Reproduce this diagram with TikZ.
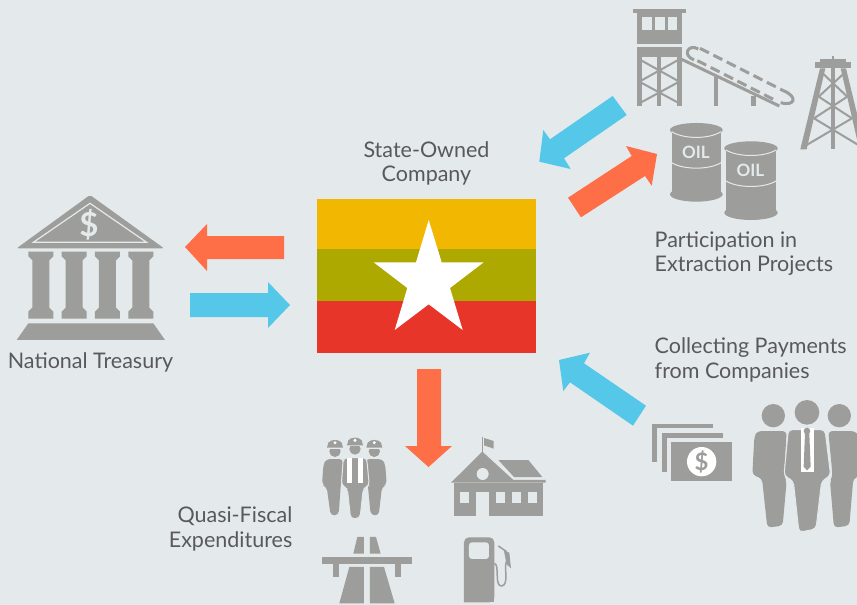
\documentclass[tikz,border=0pt]{standalone}
\usepackage{fontspec}
\setmainfont{Lato}
\definecolor{bgGrey}{HTML}{E4E9EB}
\definecolor{iconGrey}{HTML}{9D9D9B}
\definecolor{textGrey}{HTML}{58595B}
\definecolor{arrowOrange}{HTML}{FF6F47}
\definecolor{arrowBlue}{HTML}{55C8EA}
\definecolor{flagYellow}{HTML}{F2B700}
\definecolor{flagGreen}{HTML}{AEA900}
\definecolor{flagRed}{HTML}{E73529}
\tikzset{
  icon/.style={fill=iconGrey},
  iconline/.style={draw=iconGrey, line width=3pt},
  cutout/.style={fill=bgGrey},
  label/.style={text=textGrey, font=\fontsize{21.5}{24.5}\selectfont, inner sep=0pt},
  barreltext/.style={text=bgGrey, font=\fontsize{17}{17}\bfseries\selectfont, inner sep=0pt},
  dollar/.style={inner sep=0pt, font=\bfseries}
}

\begin{document}
\begin{tikzpicture}[x=1pt, y=-1pt]

\useasboundingbox (0,0) rectangle (857,605);
\fill[bgGrey] (0,0) rectangle (857,605);

% flag
\fill[flagYellow] (317,199) rectangle (536,249);
\fill[flagGreen] (317,249) rectangle (536,301);
\fill[flagRed] (317,301) rectangle (536,353);
\fill[white] (428.7,220) -- (441.7,262.3) -- (483.7,262.3) -- (450,288) -- (462.7,330)
  -- (428.7,304.3) -- (394.7,330) -- (407.3,288) -- (373.7,262.3) -- (416,262.3) -- cycle;

% arrows
\fill[arrowOrange] (185,247) -- (207,224) -- (207,236) -- (284,236) -- (284,259) -- (207,259) -- (207,271) -- cycle;
\fill[arrowBlue] (290,305) -- (268,282) -- (268,293) -- (190,293) -- (190,317) -- (268,317) -- (268,328) -- cycle;
\fill[arrowOrange] (428.5,467) -- (405,446) -- (417,446) -- (417,369) -- (441,369) -- (441,446) -- (452,446) -- cycle;
\fill[arrowBlue] (539.3,161.7) -- (543.3,130) -- (550,139.3) -- (612.7,96) -- (626.7,115) -- (564,158.3) -- (570.7,169) -- cycle;
\fill[arrowOrange] (657,154) -- (626,146) -- (631.7,156) -- (568,197.7) -- (581,217.3) -- (645,176) -- (651.7,185.7) -- cycle;
\fill[arrowBlue] (559,360) -- (590,352.7) -- (584,363.3) -- (646,405.7) -- (633,425.7) -- (570,382.3) -- (563.3,391) -- cycle;

% labels
\node[label, align=center] (company) at (426.5,163.5) {State-Owned\\Company};
\node[label, align=left, anchor=west] (participation) at (654.5,253.5) {Participation in\\Extraction Projects};
\node[label, align=left, anchor=west] (collecting) at (654.5,360) {Collecting Payments\\from Companies};
\node[label] (treasury) at (90.5,362.5) {National Treasury};
\node[label, align=right, anchor=east] (quasi) at (292.5,529) {Quasi-Fiscal\\Expenditures};

% treasury
\begin{scope}[shift={(0,185)}, scale=0.3333]
\fill[icon, rounded corners=2pt] (270,30) -- (492,190) -- (50,190) -- cycle;
\draw[bgGrey, line width=1.2pt] (270,55) -- (440,172) -- (100,172) -- cycle;
\foreach \x in {85,185,285,385} {
  \fill[icon] (\x,200) -- ++(75,0) -- ++(0,14) -- ++(-12,12) -- ++(0,142) -- ++(12,12) -- ++(0,21) -- ++(-75,0) -- ++(0,-21) -- ++(12,-12) -- ++(0,-142) -- ++(-12,-12) -- cycle;
}
\fill[icon] (85,415) -- (460,415) -- (495,465) -- (50,465) -- cycle;
\node[dollar, text=bgGrey, font=\fontsize{33}{33}\bfseries\selectfont] (bankdollar) at (267,118) {\$};
\end{scope}

% tower and conveyor
\begin{scope}[shift={(620,0)}, scale=0.3333]
\fill[icon] (40,27) rectangle (197,38);
\fill[icon] (52,38) rectangle (185,132);
\fill[cutout] (66,52) rectangle (95,90);
\fill[cutout] (105,52) rectangle (134,90);
\fill[cutout] (143,52) rectangle (172,90);
\fill[icon] (52,142) rectangle (185,170);
\fill[icon] (52,170) rectangle (65,318);
\fill[icon] (111,170) rectangle (124,318);
\fill[icon] (172,170) rectangle (185,318);
\draw[iconline, line width=2pt] (58,178) -- (178,245) (178,178) -- (58,245) (58,245) -- (178,310) (178,245) -- (58,310);
\draw[iconline] (185,178) -- (478,318);
\fill[icon] (281,232) rectangle (295,318);
\fill[icon] (393,288) rectangle (407,318);
\draw[iconline, dash pattern=on 10pt off 5pt] (240,145) -- (490,272);
\draw[iconline, dash pattern=on 10pt off 5pt] (232,182) -- (470,303);
\draw[iconline] (235,147) .. controls (205,130) and (185,165) .. (222,180);
\draw[iconline] (490,272) .. controls (535,290) and (525,320) .. (482,308);
% derrick
\fill[icon] (585,185) rectangle (693,205);
\fill[icon] (600,178) rectangle (678,186);
\fill[icon] (635,168) rectangle (643,180);
\fill[icon] (633,205) rectangle (645,448);
\fill[icon] (600,205) -- (616,205) -- (560,448) -- (541,448) -- cycle;
\fill[icon] (662,205) -- (678,205) -- (737,448) -- (718,448) -- cycle;
\draw[iconline, line width=2pt] (610,222) -- (682,290) (670,222) -- (596,290)
  (596,290) -- (696,355) (682,290) -- (582,355) (582,355) -- (715,435) (696,355) -- (560,435);
% barrels
\fill[icon] (155,390) rectangle (303,580);
\fill[icon] (229,390) ellipse [x radius=79, y radius=21];
\fill[icon] (229,583) ellipse [x radius=79, y radius=22];
\draw[bgGrey, line width=1pt] (155,395) .. controls (190,418) and (268,418) .. (303,395);
\draw[bgGrey, line width=1pt] (155,488) .. controls (190,510) and (268,510) .. (303,488);
\node[barreltext] (oilone) at (228,458) {OIL};
\fill[icon] (318,445) rectangle (468,635);
\fill[icon] (393,445) ellipse [x radius=80, y radius=21];
\fill[icon] (393,638) ellipse [x radius=80, y radius=22];
\draw[bgGrey, line width=1pt] (318,450) .. controls (353,472) and (433,472) .. (468,450);
\draw[bgGrey, line width=1pt] (318,543) .. controls (353,565) and (433,565) .. (468,543);
\node[barreltext] (oiltwo) at (391,511) {OIL};
\end{scope}

% money and people
\begin{scope}[shift={(640,395)}, scale=0.3333]
\fill[icon] (37,86) rectangle (220,100);
\fill[icon] (37,86) rectangle (52,200);
\fill[icon] (66,114) rectangle (248,128);
\fill[icon] (66,114) rectangle (80,230);
\fill[icon] (93,141) rectangle (276,257);
\fill[white] (185,200) circle (44);
\node[dollar, text=iconGrey, font=\fontsize{24}{24}\bfseries\selectfont] (moneydollar) at (185,200) {\$};
\fill[icon] (400,62) circle (35);
\fill[icon] (501,52) circle (37);
\fill[icon] (598,62) circle (35);
\fill[icon, rounded corners=4pt] (352,108) -- (440,108) -- (432,245) -- (440,258) -- (428,392) -- (382,398) -- (366,250) -- (337,240) -- (343,125) -- cycle;
\fill[icon, rounded corners=4pt] (565,108) -- (645,108) -- (660,125) -- (668,240) -- (640,250) -- (628,392) -- (582,398) -- (570,258) -- (578,245) -- cycle;
\fill[icon, draw=bgGrey, line width=1pt, rounded corners=4pt] (445,104) -- (555,104) -- (572,242) -- (545,258) -- (528,402) -- (477,412) -- (460,258) -- (432,242) -- cycle;
\fill[white] (483,100) rectangle (522,230);
\fill[icon] (501,108) circle (10);
\fill[icon] (495,115) -- (508,115) -- (512,215) -- (501,226) -- (491,215) -- cycle;
\end{scope}

% workers, road, pump
\begin{scope}[shift={(310,425)}, scale=0.3333]
\fill[icon, rounded corners=4pt] (48,102) -- (100,102) -- (92,185) -- (86,270) -- (62,272) -- (50,185) -- (36,180) -- (40,120) -- cycle;
\fill[icon, rounded corners=4pt] (218,102) -- (166,102) -- (174,185) -- (182,270) -- (206,272) -- (216,185) -- (230,180) -- (226,120) -- cycle;
\fill[icon, draw=bgGrey, line width=1pt, rounded corners=4pt] (100,98) -- (170,98) -- (178,182) -- (160,190) -- (150,280) -- (122,282) -- (112,190) -- (94,182) -- cycle;
\fill[white] (112,98) rectangle (126,174);
\fill[white] (145,98) rectangle (158,174);
\foreach \x/\y in {75/45,135/38,193/45} {
  \fill[icon] (\x,\y+34) circle (17);
  \fill[bgGrey] (\x-26,\y+21) rectangle (\x+26,\y+26);
  \fill[icon] (\x-24,\y+23) -- (\x-20,\y+8) .. controls (\x-12,\y-3) and (\x+12,\y-3) .. (\x+20,\y+8) -- (\x+24,\y+23) -- cycle;
  \fill[white] (\x,\y+8) circle (5);
}
% road
\fill[icon] (36,396) rectangle (305,416);
\fill[icon] (70,416) rectangle (87,457);
\fill[icon] (254,416) rectangle (272,457);
\fill[icon] (142,336) -- (162,336) -- (162,386) -- (130,386) -- cycle;
\fill[icon] (180,336) -- (198,336) -- (212,386) -- (180,386) -- cycle;
\fill[icon] (118,426) -- (162,426) -- (162,535) -- (88,535) -- cycle;
\fill[icon] (180,426) -- (222,426) -- (254,535) -- (180,535) -- cycle;
% pump
\fill[icon, rounded corners=5pt] (462,532) -- (462,337) -- (553,337) -- (553,532) [sharp corners] -- cycle;
\fill[icon] (462,515) rectangle (553,531);
\fill[cutout, rounded corners=3pt] (477,402) -- (477,352) -- (537,352) -- (537,402) -- cycle;
\draw[iconline, line width=1.5pt] (553,415) .. controls (570,418) and (552,485) .. (575,483) .. controls (600,480) and (578,420) .. (592,405);
\draw[iconline, line width=1.5pt] (565,363) -- (590,380);
\fill[icon] (582,378) -- (598,383) -- (603,430) -- (590,418) -- cycle;
\end{scope}

% school
\begin{scope}[shift={(445,430)}, scale=0.3333]
\fill[icon] (110,22) rectangle (114,65);
\fill[icon] (117,24) -- (146,33) -- (146,56) -- (117,46) -- cycle;
\fill[icon] (160,90) -- (250,90) -- (292,141) -- (207,141) -- cycle;
\fill[icon] (112,65) -- (205,150) -- (302,150) -- (302,158) -- (18,158) -- cycle;
\fill[icon] (28,158) rectangle (295,258);
\fill[cutout] (113,132) circle (18);
\fill[cutout] (92,185) rectangle (133,258);
\fill[cutout] (45,185) rectangle (72,220);
\fill[cutout] (153,185) rectangle (180,220);
\fill[cutout] (201,185) rectangle (228,220);
\fill[cutout] (249,185) rectangle (276,220);
\end{scope}

\end{tikzpicture}
\end{document}
